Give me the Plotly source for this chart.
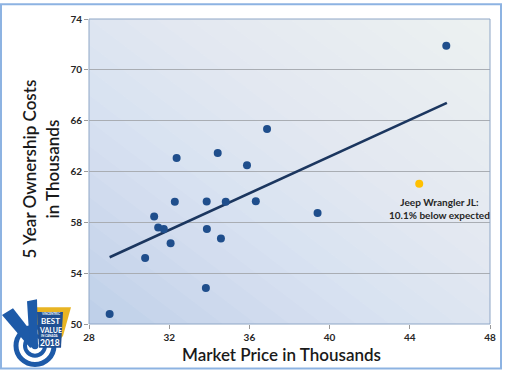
import plotly.graph_objects as go

# ---------------- data ----------------
price = [29.03, 30.80, 31.25, 31.45, 31.73, 32.07, 32.28, 32.37, 33.87, 33.88,
         33.83, 34.42, 34.58, 34.82, 35.88, 36.32, 36.88, 39.40, 45.82]
cost = [50.78, 55.19, 58.46, 57.60, 57.48, 56.36, 59.61, 63.06, 59.63, 57.48,
        52.83, 63.45, 56.73, 59.61, 62.49, 59.66, 65.35, 58.73, 71.90]
jeep_price = [44.47]
jeep_cost = [61.04]
trend_x = [29.03, 45.85]
trend_y = [55.25, 67.40]
x_ticks = [28, 32, 36, 40, 44, 48]
y_ticks = [50, 54, 58, 62, 66, 70, 74]

W, H = 510, 371
L, R, T, B = 89, 490, 16, 324  # plot area in px


def PX(px):
    return (px - L) / (R - L)


def PY(py):
    return (B - py) / (B - T)


FONT = "Lato"
fig = go.Figure()

fig.add_trace(go.Scatter(x=trend_x, y=trend_y, mode="lines",
                         line=dict(color="#1b365f", width=2.6),
                         hoverinfo="skip", showlegend=False))
fig.add_trace(go.Scatter(x=price, y=cost, mode="markers",
                         marker=dict(color="#1f4e8c", size=8, line=dict(width=0)),
                         showlegend=False))
fig.add_trace(go.Scatter(x=jeep_price, y=jeep_cost, mode="markers",
                         marker=dict(color="#ffc000", size=8, line=dict(width=0)),
                         showlegend=False))

shapes = []
# plot-area base and diagonal gradient (lighter toward top-right)
shapes.append(dict(type="rect", xref="paper", yref="paper", x0=0, x1=1, y0=0, y1=1,
                   fillcolor="#bfd0e9", line=dict(width=0), layer="below"))
N = 24
for k in range(1, N):
    t = k / N
    s = 2 * t
    if s <= 1:
        path = f"M {s},0 L 1,0 L 1,1 L 0,1 L 0,{s} Z"
    else:
        path = f"M {s-1},1 L 1,1 L 1,{s-1} Z"
    shapes.append(dict(type="path", xref="paper", yref="paper", path=path,
                       fillcolor="white", opacity=0.065, line=dict(width=0), layer="below"))
# plot-area border
shapes.append(dict(type="rect", xref="paper", yref="paper", x0=0, x1=1, y0=0, y1=1,
                   line=dict(color="#8ea6c6", width=1), fillcolor="rgba(0,0,0,0)", layer="above"))
# outer frame
shapes.append(dict(type="rect", xref="paper", yref="paper", x0=PX(1), x1=PX(501),
                   y0=PY(369), y1=PY(1), line=dict(color="#8db3e2", width=2),
                   fillcolor="rgba(0,0,0,0)", layer="above"))

# ---- logo (approximation) ----
def poly(pts, **kw):
    d = "M " + " L ".join(f"{PX(a)},{PY(b)}" for a, b in pts) + " Z"
    return dict(type="path", xref="paper", yref="paper", path=d, layer="above", **kw)


def ellipse(cx, cy, r, **kw):
    return dict(type="circle", xref="paper", yref="paper",
                x0=PX(cx - r), x1=PX(cx + r), y0=PY(cy + r), y1=PY(cy - r),
                layer="above", **kw)

shapes.append(poly([(34, 307), (71, 307), (63, 336), (52, 348), (40, 346)],
                   fillcolor="#e8b423", line=dict(width=0)))
shapes.append(ellipse(35, 346, 19, fillcolor="rgba(0,0,0,0)",
                      line=dict(color="#1d5aa8", width=5)))
shapes.append(ellipse(35, 346, 10, fillcolor="rgba(0,0,0,0)",
                      line=dict(color="#1d5aa8", width=4)))
shapes.append(ellipse(35, 346, 3.5, fillcolor="#1d5aa8", line=dict(width=0)))
shapes.append(poly([(2, 315), (13, 308), (36, 338), (30, 348)],
                   fillcolor="#1d5aa8", line=dict(width=0)))
shapes.append(poly([(27, 301), (37, 299), (38, 346), (30, 348)],
                   fillcolor="#1d5aa8", line=dict(width=0)))
shapes.append(poly([(37, 312), (63, 312), (61, 348), (39, 348)],
                   fillcolor="#1f4f92", line=dict(width=0)))


def ann(text, x, y, size, weight=600, color="#1a1a1a", angle=0):
    return dict(text=text, x=PX(x), y=PY(y), xref="paper", yref="paper",
                xanchor="center", yanchor="middle", textangle=angle, showarrow=False,
                font=dict(family=FONT, size=size, color=color, weight=weight))


annotations = [
    ann("Market Price in Thousands", 281, 355, 17),
    ann("5 Year Ownership Costs<br>in Thousands", 41, 168, 17, angle=-90),
    ann("Jeep Wrangler JL:<br>10.1% below expected", 439, 207, 10, 700, "#262626"),
    ann("VINCENTRIC", 50, 314, 3, 700, "white"),
    ann("BEST", 50, 320.5, 8, 700, "white"),
    ann("VALUE", 50, 330.5, 7, 700, "white"),
    ann("IN CANADA", 50, 336.5, 3, 700, "white"),
    ann("2018", 50, 343, 8.5, 700, "white"),
]

fig.update_layout(
    width=W, height=H,
    margin=dict(l=L, r=W - R, t=T, b=H - B),
    paper_bgcolor="white", plot_bgcolor="rgba(0,0,0,0)",
    shapes=shapes, annotations=annotations, showlegend=False,
    xaxis=dict(range=[28, 48], tickvals=x_ticks, showgrid=False, zeroline=False,
               ticks="outside", ticklen=4, tickcolor="#9a9a9a", showline=False,
               tickfont=dict(family=FONT, size=10, color="#262626", weight=700)),
    yaxis=dict(range=[50, 74], tickvals=y_ticks, showgrid=True, gridcolor="#a9adb3",
               gridwidth=1, zeroline=False, ticks="outside", ticklen=4,
               tickcolor="#9a9a9a", showline=False,
               tickfont=dict(family=FONT, size=10, color="#262626", weight=700)),
)

fig.write_html("out.html", config={"displayModeBar": False})

# remove the default page margin so the figure sits at the window's top-left
with open("out.html", encoding="utf-8") as f:
    html = f.read()
html = html.replace("<head>", "<head><style>html,body{margin:0;padding:0;overflow:hidden;}</style>", 1)
with open("out.html", "w", encoding="utf-8") as f:
    f.write(html)
